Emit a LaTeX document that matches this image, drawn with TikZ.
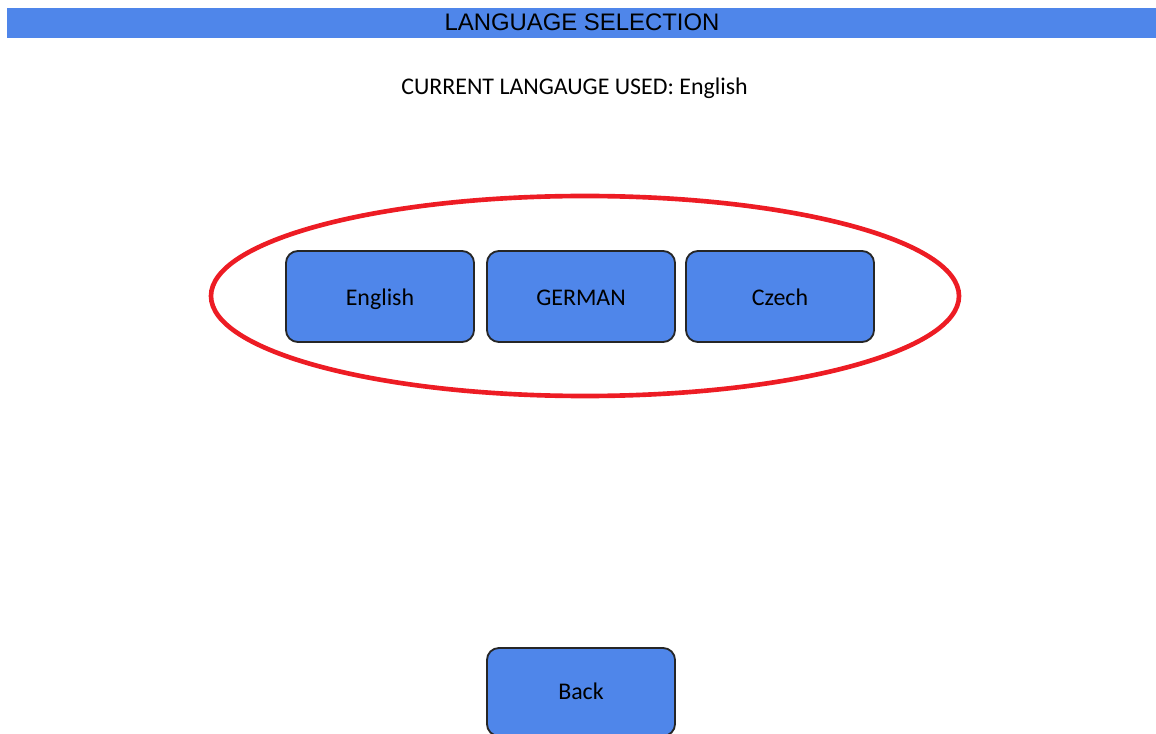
\documentclass[tikz,border=0pt]{standalone}
\usepackage{fontspec}
\setmainfont{Carlito}
\newfontfamily\titlefont{Liberation Sans}
\usetikzlibrary{positioning}
\definecolor{btnblue}{HTML}{4F86EA}
\definecolor{ringred}{HTML}{ED1C24}
\tikzset{
  btn/.style={draw=black!85, fill=btnblue, line width=1.3pt, rounded corners=8.5pt,
    minimum width=4.7cm, minimum height=2.275cm, inner sep=0pt,
    text height=16.3pt, text depth=3.4pt,
    font=\fontsize{17}{20}\selectfont},
}

\begin{document}
\begin{tikzpicture}[x=0.025cm, y=-0.025cm]
\useasboundingbox (0,0) rectangle (1156,734);
% title bar
\fill[btnblue] (7,8) rectangle (1156,38);
\node[font=\titlefont\fontsize{17}{20}\selectfont] (title) at (582,22) {LANGUAGE SELECTION};
\node[font=\fontsize{17}{20}\selectfont] (current) at (574.5,88) {CURRENT LANGAUGE USED: English};
% selection ring
\draw[ringred, line width=3.3pt] (585,296) ellipse [x radius=374, y radius=100];
% language buttons, left to right
\node[btn] (english) at (380,296.5) {English};
\node[btn] (german) at (581,296.5) {GERMAN};
\node[btn] (czech) at (780,296.5) {Czech};
\node[btn, minimum height=2.2cm, text depth=6pt] (back) at (581,692) {Back};
\end{tikzpicture}
\end{document}
